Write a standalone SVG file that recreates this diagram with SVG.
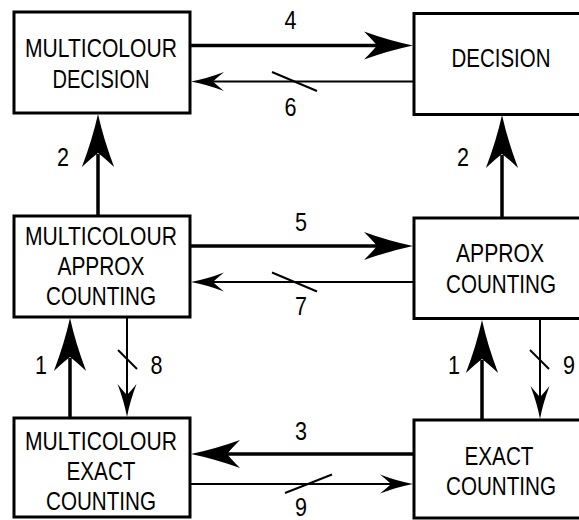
<svg xmlns="http://www.w3.org/2000/svg" width="579" height="520" viewBox="0 0 579 520">
  <style>
    .box { fill: #fff; stroke: #000; stroke-width: 3; }
    .t { font-family: "Liberation Sans", Arial, sans-serif; font-size: 26.5px; fill: #000; text-anchor: middle; }
    .thick { stroke: #000; stroke-width: 3.5; fill: none; }
    .thin { stroke: #000; stroke-width: 2; fill: none; }
    .slash { stroke: #000; stroke-width: 2; }
  </style>
  <defs>
    <path id="headThick" d="M0,0 Q-24,-5 -49,-14 Q-40,-5 -36,0 Q-40,5 -49,14 Q-24,5 0,0 Z" fill="#000"/>
    <path id="headThin" d="M0,0 Q-16,-3 -33,-9.5 Q-25,-3 -22,0 Q-25,3 -33,9.5 Q-16,3 0,0 Z" fill="#000"/>
  </defs>

  <g id="multicolour-decision">
    <rect class="box" x="14" y="12" width="176" height="101"/>
    <text class="t" x="101" y="57" textLength="152" lengthAdjust="spacingAndGlyphs">MULTICOLOUR</text>
    <text class="t" x="101" y="88" textLength="97" lengthAdjust="spacingAndGlyphs">DECISION</text>
  </g>
  <g id="decision">
    <rect class="box" x="414" y="13.5" width="176" height="101"/>
    <text class="t" x="501" y="67" textLength="99" lengthAdjust="spacingAndGlyphs">DECISION</text>
  </g>
  <g id="multicolour-approx-counting">
    <rect class="box" x="14" y="216" width="176" height="101"/>
    <text class="t" x="101" y="245" textLength="152" lengthAdjust="spacingAndGlyphs">MULTICOLOUR</text>
    <text class="t" x="101" y="275" textLength="87" lengthAdjust="spacingAndGlyphs">APPROX</text>
    <text class="t" x="101" y="305" textLength="110" lengthAdjust="spacingAndGlyphs">COUNTING</text>
  </g>
  <g id="approx-counting">
    <rect class="box" x="414" y="218" width="176" height="100.5"/>
    <text class="t" x="500" y="262" textLength="88" lengthAdjust="spacingAndGlyphs">APPROX</text>
    <text class="t" x="501" y="293" textLength="110" lengthAdjust="spacingAndGlyphs">COUNTING</text>
  </g>
  <g id="multicolour-exact-counting">
    <rect class="box" x="14" y="418" width="176" height="99"/>
    <text class="t" x="101" y="450" textLength="152" lengthAdjust="spacingAndGlyphs">MULTICOLOUR</text>
    <text class="t" x="101" y="480" textLength="69" lengthAdjust="spacingAndGlyphs">EXACT</text>
    <text class="t" x="101" y="510" textLength="110" lengthAdjust="spacingAndGlyphs">COUNTING</text>
  </g>
  <g id="exact-counting">
    <rect class="box" x="414" y="420" width="176" height="98"/>
    <text class="t" x="499" y="465" textLength="69" lengthAdjust="spacingAndGlyphs">EXACT</text>
    <text class="t" x="501" y="495" textLength="110" lengthAdjust="spacingAndGlyphs">COUNTING</text>
  </g>

  <g id="connectors">
    <!-- 4 -->
    <line class="thick" x1="190" y1="45.5" x2="378" y2="45.5"/>
    <use href="#headThick" transform="translate(413,45.5)"/>
    <text class="t" x="290.5" y="29" textLength="12" lengthAdjust="spacingAndGlyphs">4</text>
    <!-- 6 -->
    <line class="thin" x1="414" y1="81.5" x2="212" y2="81.5"/>
    <use href="#headThin" transform="translate(191,81.5) rotate(180)"/>
    <line class="slash" x1="272" y1="72" x2="317" y2="91"/>
    <text class="t" x="290.5" y="116" textLength="12" lengthAdjust="spacingAndGlyphs">6</text>
    <!-- 2 left -->
    <line class="thick" x1="98" y1="216" x2="98" y2="154"/>
    <use href="#headThick" transform="translate(98,114) rotate(-90) scale(1.08,1.15)"/>
    <text class="t" x="63" y="166" textLength="12" lengthAdjust="spacingAndGlyphs">2</text>
    <!-- 2 right -->
    <line class="thick" x1="502" y1="218" x2="502" y2="155"/>
    <use href="#headThick" transform="translate(502,115) rotate(-90) scale(1.08,1.15)"/>
    <text class="t" x="463" y="166" textLength="12" lengthAdjust="spacingAndGlyphs">2</text>
    <!-- 5 -->
    <line class="thick" x1="190" y1="246" x2="378" y2="246"/>
    <use href="#headThick" transform="translate(413,246)"/>
    <text class="t" x="301" y="231" textLength="12" lengthAdjust="spacingAndGlyphs">5</text>
    <!-- 7 -->
    <line class="thin" x1="414" y1="282" x2="212" y2="282"/>
    <use href="#headThin" transform="translate(191,282) rotate(180)"/>
    <line class="slash" x1="272" y1="272.5" x2="317" y2="291.5"/>
    <text class="t" x="301" y="315" textLength="12" lengthAdjust="spacingAndGlyphs">7</text>
    <!-- 1 left -->
    <line class="thick" x1="70" y1="418" x2="70" y2="358"/>
    <use href="#headThick" transform="translate(70,318) rotate(-90) scale(1.08,1.15)"/>
    <text class="t" x="41" y="374" textLength="12" lengthAdjust="spacingAndGlyphs">1</text>
    <!-- 8 -->
    <line class="thin" x1="127" y1="317" x2="127" y2="396"/>
    <use href="#headThin" transform="translate(127,417) rotate(90)"/>
    <line class="slash" x1="118" y1="350" x2="137" y2="369"/>
    <text class="t" x="156.5" y="374" textLength="12" lengthAdjust="spacingAndGlyphs">8</text>
    <!-- 1 right -->
    <line class="thick" x1="482" y1="420" x2="482" y2="360"/>
    <use href="#headThick" transform="translate(482,320) rotate(-90) scale(1.08,1.15)"/>
    <text class="t" x="454" y="374" textLength="12" lengthAdjust="spacingAndGlyphs">1</text>
    <!-- 9 right -->
    <line class="thin" x1="540" y1="318.5" x2="540" y2="398"/>
    <use href="#headThin" transform="translate(540,419) rotate(90)"/>
    <line class="slash" x1="530" y1="350" x2="549" y2="369"/>
    <text class="t" x="569" y="374" textLength="12" lengthAdjust="spacingAndGlyphs">9</text>
    <!-- 3 -->
    <line class="thick" x1="414" y1="454" x2="227" y2="454"/>
    <use href="#headThick" transform="translate(191,454) rotate(180)"/>
    <text class="t" x="301" y="440" textLength="12" lengthAdjust="spacingAndGlyphs">3</text>
    <!-- 9 bottom -->
    <line class="thin" x1="190" y1="484" x2="392" y2="484"/>
    <use href="#headThin" transform="translate(413,484)"/>
    <line class="slash" x1="285" y1="493" x2="332" y2="474.5"/>
    <text class="t" x="301" y="515.5" textLength="12" lengthAdjust="spacingAndGlyphs">9</text>
  </g>
</svg>
